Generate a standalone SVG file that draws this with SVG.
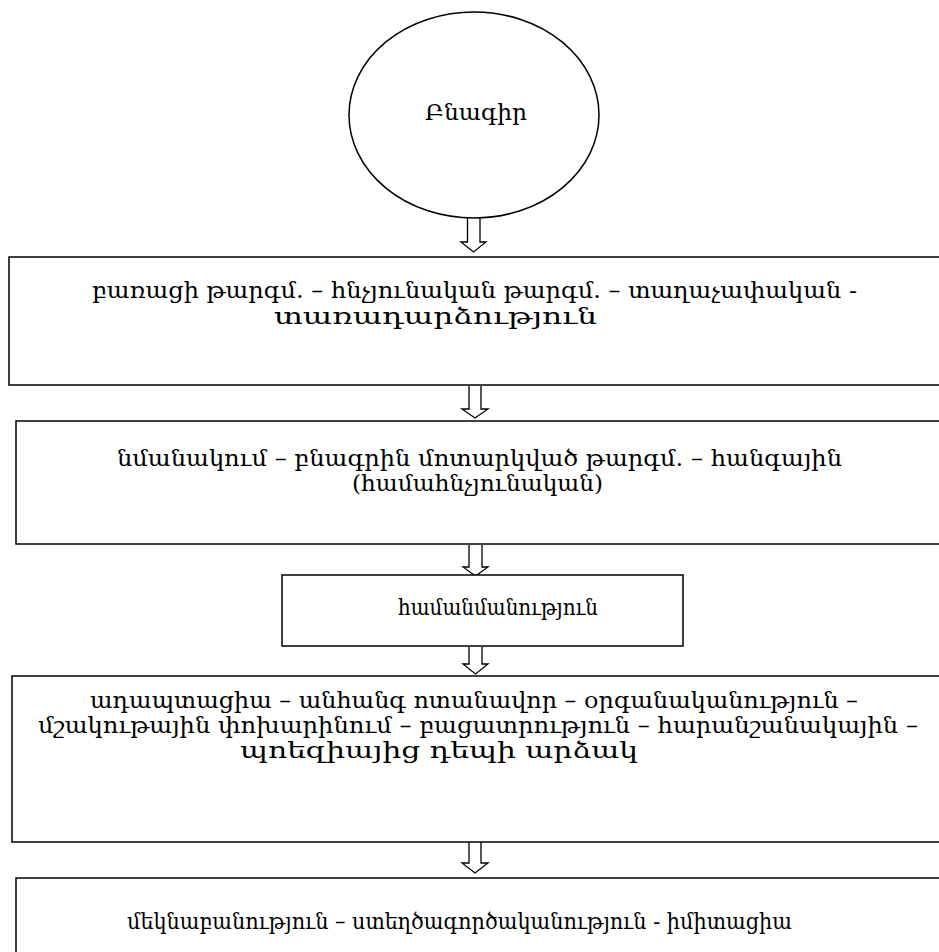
<svg xmlns="http://www.w3.org/2000/svg" width="939" height="952" viewBox="0 0 939 952">
<style>
.shape{fill:#fff;stroke:#000;stroke-width:1.5}
.arrow{fill:#fff;stroke:#000;stroke-width:1.3;stroke-linejoin:miter}
text{font-family:"DejaVu Serif","Noto Serif",serif;font-size:22px;fill:#000;text-anchor:middle}
</style>
<rect width="939" height="952" fill="#fff"/>
<g id="connectors">
<path class="arrow" d="M467.5,218 V242 H461 L473.5,252 L486,242 H480 V218"/>
<path class="arrow" d="M469,386 V409 H462 L475,418 L488,409 H481 V386"/>
<path class="arrow" d="M469,545 V567 H463 L475.5,576 L488,567 H482 V545"/>
<path class="arrow" d="M469,647 V664 H463 L475.5,674 L488,664 H482 V647"/>
<path class="arrow" d="M469,842 V863 H462 L475,873 L488,863 H481 V842"/>
</g>
<g id="node-source">
<ellipse class="shape" cx="474" cy="115" rx="125" ry="103"/>
<text x="476" y="120" textLength="102" lengthAdjust="spacingAndGlyphs">Բնագիր</text>
</g>
<g id="node-1">
<rect class="shape" x="9" y="257" width="945" height="128"/>
<text x="474.5" y="298" textLength="765" lengthAdjust="spacingAndGlyphs">բառացի թարգմ. – հնչյունական թարգմ. – տաղաչափական -</text>
<text x="435.5" y="324" textLength="323" lengthAdjust="spacingAndGlyphs">տառադարձություն</text>
</g>
<g id="node-2">
<rect class="shape" x="16" y="421" width="945" height="123"/>
<text x="479.5" y="466" textLength="725" lengthAdjust="spacingAndGlyphs">նմանակում – բնագրին մոտարկված թարգմ. – հանգային</text>
<text x="477.5" y="491" textLength="251" lengthAdjust="spacingAndGlyphs">(համահնչյունական)</text>
</g>
<g id="node-3">
<rect class="shape" x="282" y="575" width="401" height="71"/>
<text x="498" y="615" textLength="200" lengthAdjust="spacingAndGlyphs">համանմանություն</text>
</g>
<g id="node-4">
<rect class="shape" x="12" y="676" width="945" height="166"/>
<text x="474" y="708" textLength="768" lengthAdjust="spacingAndGlyphs">ադապտացիա – անհանգ ոտանավոր – օրգանականություն –</text>
<text x="478" y="733" textLength="880" lengthAdjust="spacingAndGlyphs">մշակութային փոխարինում – բացատրություն – հարանշանակային –</text>
<text x="439" y="758" textLength="398" lengthAdjust="spacingAndGlyphs">պոեզիայից դեպի արձակ</text>
</g>
<g id="node-5">
<rect class="shape" x="16" y="878" width="945" height="100"/>
<text x="459.5" y="929" textLength="665" lengthAdjust="spacingAndGlyphs">մեկնաբանություն – ստեղծագործականություն - իմիտացիա</text>
</g>
</svg>
